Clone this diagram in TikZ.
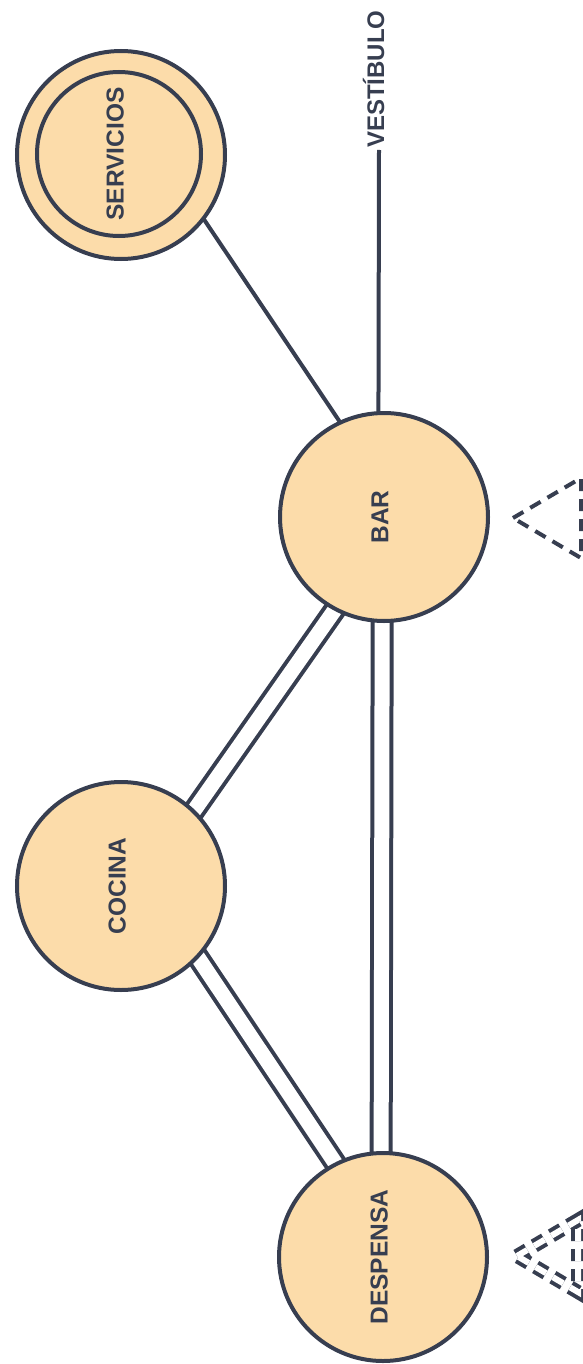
\documentclass[tikz,border=0pt]{standalone}
\usepackage{fontspec}
\setmainfont{Liberation Sans}
\pgfdeclarelayer{bg}
\pgfsetlayers{bg,main}
\definecolor{peach}{HTML}{FCDCAA}
\definecolor{ink}{HTML}{373E50}
\begin{document}
\begin{tikzpicture}[x=1pt,y=-1pt,
  room/.style={circle,draw=ink,fill=peach,line width=4pt,minimum size=208pt,inner sep=0pt,
    font=\fontsize{24.5}{28}\selectfont\bfseries,text=ink,text depth=8pt},
  link/.style={draw=ink,line width=4pt},
  dlink/.style={draw=ink,line width=4pt,double=white,double distance=15pt,shorten <=-12pt,shorten >=-12pt},
  dashtri/.style={draw=ink,line width=4pt,dash pattern=on 12pt off 8pt},
]
\useasboundingbox (0,0) rectangle (583,1364);
% rooms
\node[room] (servicios) at (121,155) {};
\node[room,minimum size=164pt,rotate=90] (servin) at (119,154) {SERVICIOS};
\node[room,rotate=90] (bar) at (384,517) {BAR};
\node[room,rotate=90] (cocina) at (121,886) {COCINA};
\node[room,rotate=90] (despensa) at (383,1257) {DESPENSA};
% vestibulo
\coordinate (vtop) at (379,150);
\node[rotate=90,anchor=base west,inner sep=0pt,font=\fontsize{24}{28}\selectfont\bfseries,text=ink] (vest) at (384,148) {VESTÍBULO};
\begin{pgfonlayer}{bg}
\draw[link,shorten <=-6pt,shorten >=-6pt] (servicios.-38) -- (bar.25);
\draw[dlink] (cocina.-44) -- (bar.152);
\draw[dlink] (cocina.-133) -- (despensa.27);
\draw[dlink] (bar.179) -- (despensa.1);
\draw[link,shorten <=-6pt] (bar.3) -- (vtop);
\end{pgfonlayer}
% dashed triangles
\draw[dashtri] (513,518) -- (581,478) -- (581,558) -- cycle;
\draw[dashtri,double=white,double distance=6pt] (517,1256) -- (578,1220) -- (578,1292) -- cycle;
\end{tikzpicture}
\end{document}
